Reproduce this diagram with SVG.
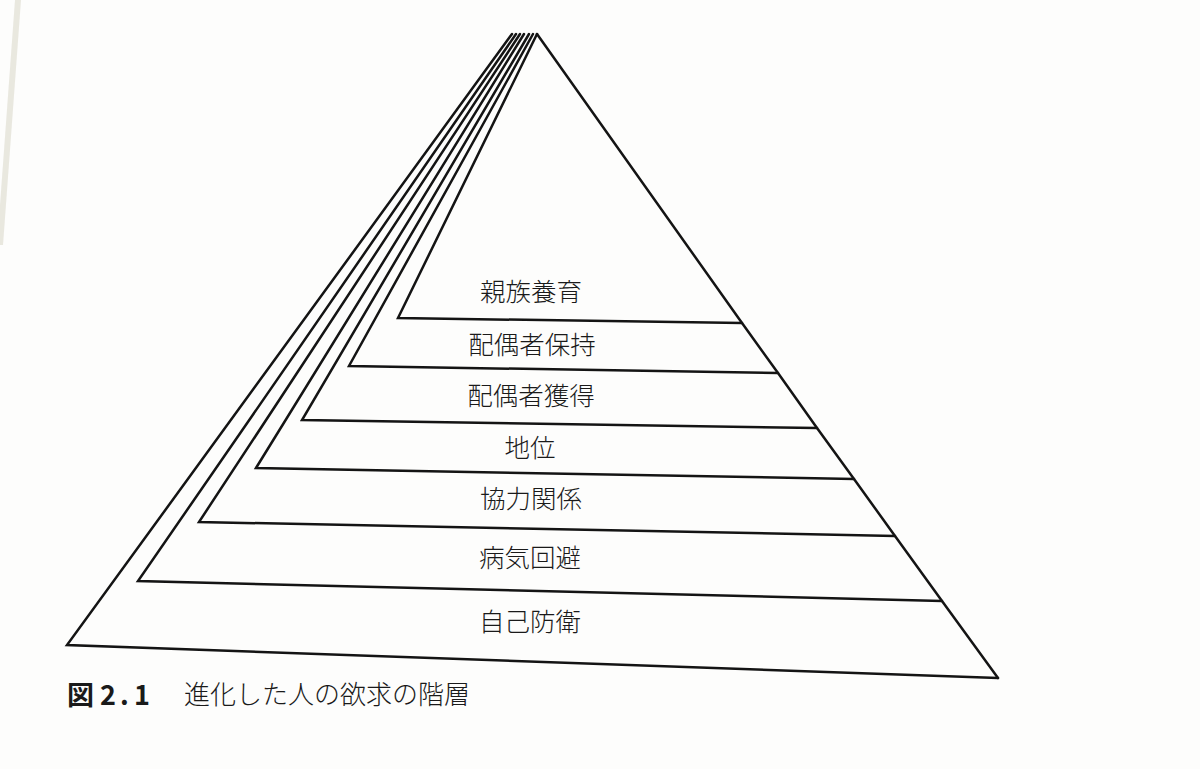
<svg xmlns="http://www.w3.org/2000/svg" width="1200" height="769" viewBox="0 0 1200 769">
<style>
.edge{fill:none;stroke:#141414;stroke-width:2.5;stroke-linejoin:miter;stroke-linecap:round}
.lbl{font-family:"Noto Sans CJK JP","Noto Sans CJK SC",sans-serif;font-size:25.5px;font-weight:300;fill:#1a1a1a;text-anchor:middle}
.cap{font-family:"Noto Sans CJK JP","Noto Sans CJK SC",sans-serif;font-size:26px;font-weight:300;fill:#1a1a1a}
.capb{font-family:"Noto Sans CJK JP","Noto Sans CJK SC",sans-serif;font-size:27px;font-weight:bold;fill:#1a1a1a}
</style>
<rect width="1200" height="769" fill="#fdfdfc"/>
<polygon points="15,0 21,0 3,245 0,245 0,205" fill="#e2e0d6" opacity="0.75"/>
<g id="layer-7-self-defense">
<path class="edge" d="M512,34 L67,645 L998,678"/>
<text class="lbl" x="530" y="631">自己防衛</text>
</g>
<g id="layer-6-disease-avoidance">
<path class="edge" d="M516,34 L138,581 L942,601"/>
<text class="lbl" x="530" y="567">病気回避</text>
</g>
<g id="layer-5-affiliation">
<path class="edge" d="M520,34 L199,522 L895,536"/>
<text class="lbl" x="531" y="508">協力関係</text>
</g>
<g id="layer-4-status">
<path class="edge" d="M524,34 L256,468 L854,479"/>
<text class="lbl" x="530" y="457">地位</text>
</g>
<g id="layer-3-mate-acquisition">
<path class="edge" d="M529,34 L302,420 L817,428"/>
<text class="lbl" x="531" y="405">配偶者獲得</text>
</g>
<g id="layer-2-mate-retention">
<path class="edge" d="M533,34 L349,366 L778,373"/>
<text class="lbl" x="532" y="354">配偶者保持</text>
</g>
<g id="layer-1-kin-care">
<path class="edge" d="M537,34 L398,318 L742,323"/>
<text class="lbl" x="531" y="301">親族養育</text>
</g>
<g id="right-edge">
<path class="edge" d="M537,34 L742,323 L778,373 L817,428 L854,479 L895,536 L942,601 L998,678"/>
</g>
<g id="caption">
<text class="capb" x="67" y="705">図</text>
<text class="capb" x="100" y="705">2</text>
<text class="capb" x="120" y="705">.</text>
<text class="capb" x="134" y="705">1</text>
<text class="cap" x="184" y="704">進化した人の欲求の階層</text>
</g>
</svg>
